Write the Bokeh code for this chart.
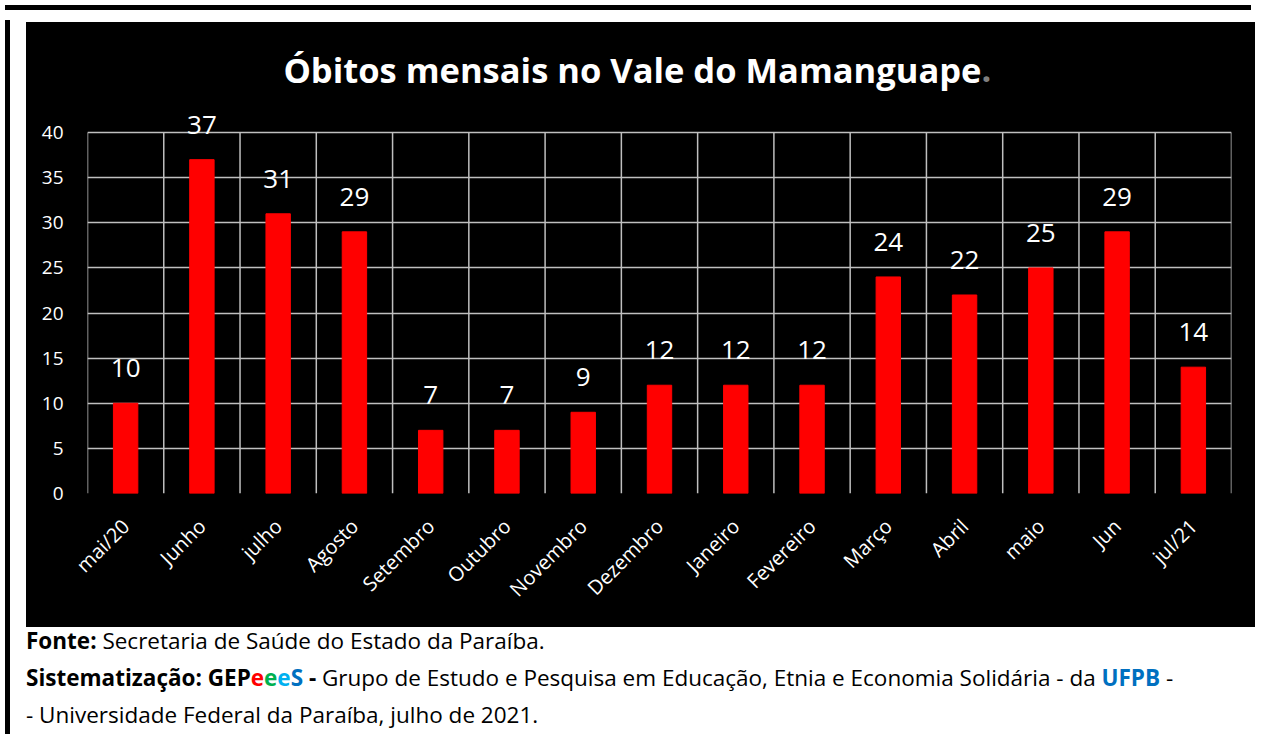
import math
from bokeh.plotting import figure
from bokeh.models import (ColumnDataSource, LabelSet, Label, FixedTicker, Div,
                          Spacer, FactorRange, Range1d)
from bokeh.core.properties import value
from bokeh.layouts import column, row
from bokeh.embed import file_html
from bokeh.resources import INLINE

# ---- data ----
categories = ["mai/20", "Junho", "julho", "Agosto", "Setembro", "Outubro",
              "Novembro", "Dezembro", "Janeiro", "Fevereiro", "Março", "Abril",
              "maio", "Jun", "jul/21"]
obitos = [10, 37, 31, 29, 7, 7, 9, 12, 12, 12, 24, 22, 25, 29, 14]
y_ticks = [0, 5, 10, 15, 20, 25, 30, 35, 40]
title_text = "Óbitos mensais no Vale do Mamanguape"

FONT = "Open Sans"
GRID = "#bfbfbf"

src = ColumnDataSource(dict(cat=categories, val=obitos,
                            lbl=[str(v) for v in obitos]))

# frame extends to the top of the black panel so that the title and the
# value labels above 40 are not clipped
p = figure(x_range=FactorRange(factors=categories, range_padding=0, factor_padding=0),
           y_range=Range1d(0, 52.2),
           width=1229, height=605, output_backend="svg", toolbar_location=None,
           min_border_left=61, min_border_right=24, min_border_top=0,
           min_border_bottom=134,
           background_fill_color="black", border_fill_color="black",
           outline_line_color=None,
           styles={"background-color": "black"})

# vertical grid lines at category boundaries, from 0 to 40
bounds = list(range(len(categories) + 1))
p.segment(x0=bounds, y0=[0] * len(bounds), x1=bounds,
          y1=[max(y_ticks)] * len(bounds), line_color=GRID, line_width=1.5)

p.vbar(x="cat", top="val", width=0.32, source=src, color="#ff0000")

# axes
for ax in (p.xaxis[0], p.yaxis[0]):
    ax.axis_line_color = None
    ax.major_tick_line_color = None
    ax.minor_tick_line_color = None
    ax.major_label_text_color = "white"
    ax.major_label_text_font = FONT

p.xaxis.major_label_orientation = math.pi / 4
p.xaxis.major_label_text_font_size = "20px"
p.xaxis.major_label_standoff = 23

p.yaxis.ticker = FixedTicker(ticks=y_ticks)
p.yaxis.major_label_text_font_size = "19px"
p.yaxis.major_label_standoff = 18

# grids
p.ygrid.ticker = FixedTicker(ticks=y_ticks)
p.ygrid.grid_line_color = GRID
p.ygrid.grid_line_width = 1.5
p.xgrid.grid_line_color = None

# data labels
p.add_layout(LabelSet(x="cat", y="val", text="lbl", source=src,
                      text_align="center", text_baseline="alphabetic",
                      y_offset=26, text_color="white", text_font=value(FONT),
                      text_font_size="26px"))

# title (white text + grey period), screen units relative to the frame
p.add_layout(Label(x=894, y=424, x_units="screen", y_units="screen",
                   text=title_text, text_align="right",
                   text_baseline="alphabetic", text_color="white",
                   text_font=FONT, text_font_style="bold",
                   text_font_size="34.5px"))
p.add_layout(Label(x=894, y=424, x_units="screen", y_units="screen",
                   text=".", text_align="left",
                   text_baseline="alphabetic", text_color="#7f7f7f",
                   text_font=FONT, text_font_style="bold",
                   text_font_size="34.5px"))

foot_html = (
    '<div style="font-family:\'Open Sans\';font-size:22.5px;line-height:37px;'
    'color:#000;margin-top:-10px;margin-left:-5px;white-space:nowrap;">'
    '<div><b>Fonte:</b> Secretaria de Saúde do Estado da Paraíba.</div>'
    '<div><b>Sistematização: GEP<span style="color:#ff0000">e</span>'
    '<span style="color:#00b050">e</span><span style="color:#00b0f0">e</span>'
    '<span style="color:#0070c0">S</span> -</b> Grupo de Estudo e Pesquisa em '
    'Educação, Etnia e Economia Solidária - da '
    '<b style="color:#0070c0">UFPB</b> -</div>'
    '<div>- Universidade Federal da Paraíba, julho de 2021.</div>'
    '</div>'
)
foot = Div(text=foot_html, width=1229, height=102)

top_bar = Div(text="", width=1246, height=5, styles={"background-color": "black"})
left_bar = Div(text="", width=5, height=714, styles={"background-color": "black"})

layout = column(top_bar,
                row(left_bar, Spacer(width=11),
                    column(Spacer(height=7), p, foot)))

open("out.html", "w").write(file_html(layout, INLINE))
